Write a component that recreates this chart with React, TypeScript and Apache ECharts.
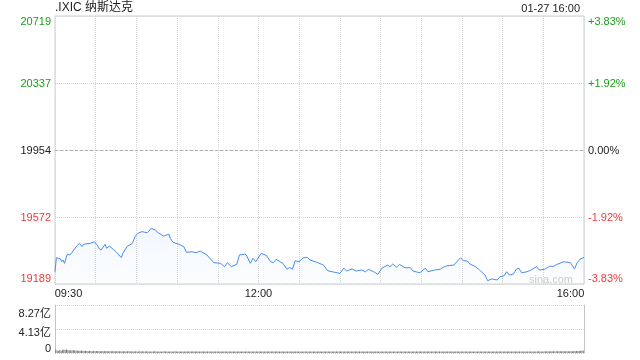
import React, { useEffect, useRef } from "react";
import * as echarts from "echarts";

const titleText = ".IXIC 纳斯达克";
const stampText = "01-27 16:00";
const watermarkText = "sina.com";
const prevClose = 19954;
const halfRange = 765;

const minutes = [
  0, 1, 4, 5, 6, 7, 9, 11, 12, 16, 18, 20, 21, 26, 29, 31, 33, 34, 37, 38, 40, 43, 45, 49, 50, 53, 57, 59, 61, 64,
  68, 71, 74, 76, 80, 84, 85, 87, 91, 95, 97, 101, 104, 107, 112, 117, 122, 125, 127, 130, 134, 136, 140, 141, 144,
  146, 148, 152, 156, 159, 161, 163, 166, 168, 171, 173, 175, 177, 180, 183, 186, 188, 193, 198, 201, 206, 210, 213,
  215, 219, 222, 226, 229, 231, 235, 238, 241, 245, 247, 249, 252, 254, 258, 262, 264, 269, 273, 275, 280, 284, 286,
  289, 294, 299, 301, 304, 306, 310, 313, 317, 319, 322, 326, 328, 331, 333, 335, 338, 340, 342, 344, 348, 351, 355,
  357, 361, 365, 367, 370, 375, 380, 383, 385, 387, 390,
];

const prices = [
  19259, 19339, 19332, 19316, 19326, 19307, 19359, 19355, 19364, 19406, 19421, 19402, 19416, 19421, 19430, 19412,
  19387, 19383, 19416, 19393, 19406, 19387, 19373, 19339, 19364, 19402, 19421, 19459, 19478, 19488, 19482, 19507,
  19497, 19482, 19463, 19473, 19450, 19427, 19417, 19402, 19370, 19373, 19368, 19377, 19355, 19311, 19307, 19288,
  19311, 19288, 19301, 19355, 19359, 19355, 19307, 19336, 19316, 19364, 19351, 19316, 19311, 19330, 19316, 19307,
  19273, 19284, 19273, 19322, 19316, 19339, 19341, 19326, 19313, 19297, 19265, 19256, 19250, 19279, 19263, 19275,
  19263, 19269, 19259, 19273, 19259, 19244, 19279, 19297, 19288, 19303, 19284, 19301, 19282, 19282, 19263, 19253,
  19279, 19259, 19269, 19273, 19284, 19293, 19297, 19339, 19322, 19320, 19303, 19288, 19269, 19240, 19208, 19218,
  19212, 19231, 19235, 19259, 19240, 19246, 19273, 19279, 19253, 19259, 19269, 19288, 19269, 19273, 19292, 19288,
  19301, 19316, 19311, 19275, 19311, 19330, 19341,
];

const xLabelMinutes = [0, 150, 390];
const xLabelTexts = ["09:30", "12:00", "16:00"];

const volumeMax = 8.27;
const volumes = [
  0.62, 0.45, 0.4, 0.52, 0.38, 0.55, 0.58, 0.57, 0.6, 0.52, 0.48, 0.45, 0.44, 0.5, 0.41, 0.38, 0.44, 0.4, 0.37, 0.42, 0.36, 0.33, 0.38, 0.35, 0.32, 0.37, 0.33, 0.31, 0.34, 0.32,
  0.35, 0.33, 0.3, 0.32, 0.34, 0.31, 0.29, 0.33, 0.3, 0.29, 0.28, 0.3, 0.29, 0.28, 0.29, 0.3, 0.28, 0.29, 0.28, 0.27, 0.29, 0.28, 0.27, 0.28, 0.29, 0.27, 0.28, 0.27, 0.26, 0.28,
  0.27, 0.26, 0.28, 0.27, 0.29, 0.26, 0.27, 0.28, 0.26, 0.27, 0.25, 0.27, 0.26, 0.28, 0.27, 0.26, 0.25, 0.27, 0.26, 0.27, 0.28, 0.26, 0.25, 0.27, 0.26, 0.25, 0.27, 0.26, 0.28, 0.27,
  0.26, 0.25, 0.27, 0.26, 0.25, 0.27, 0.26, 0.25, 0.26, 0.27, 0.25, 0.26, 0.25, 0.27, 0.26, 0.25, 0.26, 0.25, 0.27, 0.26, 0.25, 0.26, 0.27, 0.25, 0.26, 0.25, 0.26, 0.27, 0.25, 0.26,
  0.25, 0.26, 0.25, 0.24, 0.26, 0.25, 0.25, 0.26, 0.24, 0.25, 0.26, 0.25, 0.24, 0.25, 0.26, 0.25, 0.25, 0.24, 0.26, 0.25, 0.24, 0.25, 0.25, 0.26, 0.24, 0.25, 0.25, 0.24, 0.26, 0.25,
  0.24, 0.25, 0.25, 0.24, 0.25, 0.26, 0.24, 0.25, 0.24, 0.25, 0.25, 0.26, 0.24, 0.25, 0.24, 0.25, 0.26, 0.25, 0.24, 0.25, 0.25, 0.24, 0.25, 0.26, 0.25, 0.24, 0.25, 0.25, 0.24, 0.25,
  0.25, 0.24, 0.25, 0.25, 0.26, 0.24, 0.25, 0.24, 0.25, 0.25, 0.24, 0.26, 0.25, 0.25, 0.24, 0.25, 0.24, 0.25, 0.26, 0.25, 0.24, 0.25, 0.24, 0.25, 0.25, 0.26, 0.24, 0.25, 0.25, 0.24,
  0.25, 0.25, 0.24, 0.26, 0.25, 0.24, 0.25, 0.25, 0.24, 0.25, 0.26, 0.25, 0.24, 0.25, 0.25, 0.24, 0.25, 0.26, 0.24, 0.25, 0.25, 0.24, 0.25, 0.25, 0.26, 0.24, 0.25, 0.25, 0.24, 0.25,
  0.25, 0.26, 0.25, 0.24, 0.25, 0.25, 0.26, 0.25, 0.24, 0.25, 0.26, 0.25, 0.25, 0.24, 0.25, 0.26, 0.25, 0.25, 0.24, 0.25, 0.25, 0.26, 0.25, 0.24, 0.25, 0.25, 0.26, 0.25, 0.25, 0.24,
  0.25, 0.26, 0.25, 0.25, 0.26, 0.25, 0.24, 0.25, 0.26, 0.25, 0.25, 0.26, 0.25, 0.24, 0.25, 0.26, 0.25, 0.25, 0.26, 0.25, 0.25, 0.24, 0.25, 0.26, 0.25, 0.25, 0.26, 0.25, 0.25, 0.26,
  0.26, 0.25, 0.26, 0.25, 0.25, 0.26, 0.25, 0.26, 0.25, 0.25, 0.26, 0.25, 0.26, 0.26, 0.25, 0.26, 0.25, 0.26, 0.25, 0.26, 0.26, 0.25, 0.26, 0.25, 0.26, 0.26, 0.25, 0.26, 0.26, 0.25,
  0.26, 0.26, 0.25, 0.26, 0.27, 0.26, 0.25, 0.26, 0.27, 0.26, 0.26, 0.27, 0.26, 0.25, 0.27, 0.26, 0.27, 0.26, 0.27, 0.26, 0.27, 0.27, 0.26, 0.27, 0.26, 0.27, 0.28, 0.27, 0.26, 0.27,
  0.27, 0.28, 0.27, 0.28, 0.27, 0.28, 0.29, 0.28, 0.27, 0.29, 0.28, 0.29, 0.3, 0.29, 0.28, 0.3, 0.29, 0.31, 0.3, 0.31, 0.32, 0.31, 0.33, 0.32, 0.34, 0.35, 0.34, 0.37, 0.4, 0.45,
];

const FONT = '"Liberation Sans", Arial, "Noto Sans CJK SC", sans-serif';
const GREEN = "#1a9e1a";
const RED = "#f03a3a";
const DARK = "#222";

const richBase = (fill: string) => ({ color: fill, fontSize: 11, fontFamily: FONT });
const rich = {
  gTop: { ...richBase(GREEN), padding: [9, 0, 0, 0] },
  g: richBase(GREEN),
  k: richBase(DARK),
  r: richBase(RED),
  rBot: { ...richBase(RED), padding: [0, 0, 12, 0] },
  vTop: { ...richBase(DARK), padding: [16, 0, 0, 0] },
  vMid: { ...richBase(DARK), padding: [6, 0, 0, 0] },
  vBot: { ...richBase(DARK), padding: [0, 0, 11, 0] },
  xL: { ...richBase(DARK), padding: [0, 0, 0, 27] },
  xC: richBase(DARK),
  xR: { ...richBase(DARK), padding: [0, 27, 0, 0] },
};

const styleKey = (v: number) => {
  if (v >= halfRange - 1e-6) return "gTop";
  if (v > 1e-6) return "g";
  if (v <= -halfRange + 1e-6) return "rBot";
  if (v < -1e-6) return "r";
  return "k";
};

export default function App() {
  const ref = useRef<HTMLDivElement>(null);
  useEffect(() => {
    if (!ref.current) return;
    const chart = echarts.init(ref.current, undefined, { renderer: "svg" });
    const lineData = minutes.map((m, i) => [m, prices[i] - prevClose]);
    const barCats = volumes.map((_, i) => String(i));
    const dotted = { color: "#d6d6d6", type: "dotted" as const, width: 1 };

    chart.setOption({
      animation: false,
      textStyle: { fontFamily: FONT },
      grid: [
        { left: 55, right: 56, top: 16, height: 268, show: true, borderColor: "#cfcfcf", borderWidth: 1, backgroundColor: "transparent" },
        { left: 55, right: 56, top: 305, height: 48 },
      ],
      xAxis: [
        {
          type: "value",
          gridIndex: 0,
          min: 0,
          max: 390,
          interval: 30,
          axisLine: { show: false },
          axisTick: { show: false },
          splitLine: { show: true, lineStyle: dotted },
          axisLabel: {
            margin: 3,
            rich,
            formatter: (v: number) => {
              const idx = xLabelMinutes.indexOf(v);
              if (idx < 0) return "";
              const key = idx === 0 ? "xL" : idx === xLabelMinutes.length - 1 ? "xR" : "xC";
              return `{${key}|${xLabelTexts[idx]}}`;
            },
          },
        },
        {
          type: "category",
          gridIndex: 1,
          data: barCats,
          boundaryGap: true,
          axisLine: { show: false },
          axisTick: { show: false },
          axisLabel: { show: false },
          splitLine: { show: false },
        },
      ],
      yAxis: [
        {
          type: "value",
          gridIndex: 0,
          position: "left",
          min: -halfRange,
          max: halfRange,
          interval: halfRange / 2,
          axisLine: { show: false },
          axisTick: { show: false },
          splitLine: { show: true, lineStyle: dotted },
          axisLabel: {
            margin: 4,
            rich,
            formatter: (v: number) => `{${styleKey(v)}|${Math.round(prevClose + v)}}`,
          },
        },
        {
          type: "value",
          gridIndex: 0,
          position: "right",
          min: -halfRange,
          max: halfRange,
          interval: halfRange / 2,
          axisLine: { show: false },
          axisTick: { show: false },
          splitLine: { show: false },
          axisLabel: {
            margin: 4,
            rich,
            formatter: (v: number) => {
              const pct = (v / prevClose) * 100;
              const txt = Math.abs(pct) < 1e-9 ? "0.00%" : (pct > 0 ? "+" : "") + pct.toFixed(2) + "%";
              return `{${styleKey(v)}|${txt}}`;
            },
          },
        },
        {
          type: "value",
          gridIndex: 1,
          position: "left",
          min: 0,
          max: volumeMax,
          interval: volumeMax / 2,
          axisLine: { show: true, lineStyle: { color: "#c4c4c4" } },
          axisTick: { show: false },
          splitLine: { show: true, lineStyle: dotted },
          axisLabel: {
            margin: 4,
            rich,
            formatter: (v: number) => {
              if (v === 0) return "{vBot|0}";
              const key = v >= volumeMax - 1e-9 ? "vTop" : "vMid";
              return `{${key}|${v.toFixed(2)}亿}`;
            },
          },
        },
        {
          type: "value",
          gridIndex: 1,
          position: "right",
          min: 0,
          max: volumeMax,
          interval: volumeMax / 2,
          axisLine: { show: true, lineStyle: { color: "#c4c4c4" } },
          axisTick: { show: false },
          splitLine: { show: false },
          axisLabel: { show: false },
        },
      ],
      series: [
        {
          type: "line",
          xAxisIndex: 0,
          yAxisIndex: 0,
          data: lineData,
          showSymbol: false,
          symbol: "none",
          lineStyle: { color: "#4a8cf0", width: 1 },
          areaStyle: {
            origin: "start",
            color: new echarts.graphic.LinearGradient(0, 0, 0, 1, [
              { offset: 0, color: "rgba(74,140,240,0.10)" },
              { offset: 1, color: "rgba(74,140,240,0.02)" },
            ]),
          },
          markLine: {
            silent: true,
            symbol: "none",
            label: { show: false },
            lineStyle: { color: "#b0b0b0", type: [3, 2], width: 1 },
            data: [{ yAxis: 0 }],
          },
        },
        {
          type: "bar",
          xAxisIndex: 1,
          yAxisIndex: 2,
          data: volumes,
          barWidth: "70%",
          itemStyle: { color: "#7a7a7a" },
        },
      ],
      graphic: [
        { type: "text", left: 55, top: 1, style: { text: titleText, fontSize: 12, fill: DARK, fontFamily: FONT } },
        { type: "text", right: 60, top: 2, style: { text: stampText, fontSize: 11, fill: DARK, fontFamily: FONT } },
        { type: "text", right: 67, top: 273, style: { text: watermarkText, fontSize: 11, fill: "#cccccc", fontFamily: FONT } },
      ],
    });
    return () => chart.dispose();
  }, []);
  return <div ref={ref} style={{ position: "fixed", left: 0, top: 0, width: 640, height: 360 }} />;
}
